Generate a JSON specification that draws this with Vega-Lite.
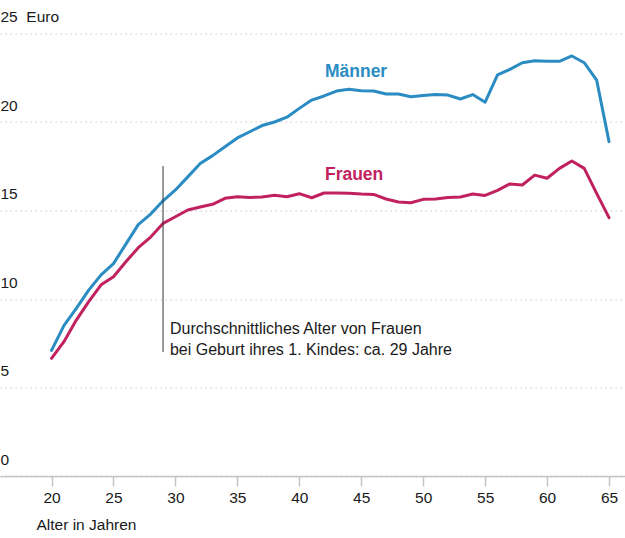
{
  "$schema": "https://vega.github.io/schema/vega-lite/v6.json",
  "autosize": "none",
  "width": 625,
  "height": 442.5,
  "padding": {"left": 0, "right": 0, "top": 33.5, "bottom": 62},
  "background": "white",
  "config": {
    "font": "Liberation Sans",
    "view": {"stroke": null}
  },
  "datasets": {
    "lohn": [
      {"alter": 20, "gruppe": "Männer", "euro": 7.1},
      {"alter": 21, "gruppe": "Männer", "euro": 8.5},
      {"alter": 22, "gruppe": "Männer", "euro": 9.47},
      {"alter": 23, "gruppe": "Männer", "euro": 10.5},
      {"alter": 24, "gruppe": "Männer", "euro": 11.36},
      {"alter": 25, "gruppe": "Männer", "euro": 12.0},
      {"alter": 26, "gruppe": "Männer", "euro": 13.1},
      {"alter": 27, "gruppe": "Männer", "euro": 14.2},
      {"alter": 28, "gruppe": "Männer", "euro": 14.8},
      {"alter": 29, "gruppe": "Männer", "euro": 15.55},
      {"alter": 30, "gruppe": "Männer", "euro": 16.16},
      {"alter": 31, "gruppe": "Männer", "euro": 16.9},
      {"alter": 32, "gruppe": "Männer", "euro": 17.65},
      {"alter": 33, "gruppe": "Männer", "euro": 18.1},
      {"alter": 34, "gruppe": "Männer", "euro": 18.6},
      {"alter": 35, "gruppe": "Männer", "euro": 19.1},
      {"alter": 36, "gruppe": "Männer", "euro": 19.45},
      {"alter": 37, "gruppe": "Männer", "euro": 19.8},
      {"alter": 38, "gruppe": "Männer", "euro": 20.0},
      {"alter": 39, "gruppe": "Männer", "euro": 20.27},
      {"alter": 40, "gruppe": "Männer", "euro": 20.77},
      {"alter": 41, "gruppe": "Männer", "euro": 21.24},
      {"alter": 42, "gruppe": "Männer", "euro": 21.47},
      {"alter": 43, "gruppe": "Männer", "euro": 21.75},
      {"alter": 44, "gruppe": "Männer", "euro": 21.85},
      {"alter": 45, "gruppe": "Männer", "euro": 21.77},
      {"alter": 46, "gruppe": "Männer", "euro": 21.75},
      {"alter": 47, "gruppe": "Männer", "euro": 21.58},
      {"alter": 48, "gruppe": "Männer", "euro": 21.58},
      {"alter": 49, "gruppe": "Männer", "euro": 21.43},
      {"alter": 50, "gruppe": "Männer", "euro": 21.5},
      {"alter": 51, "gruppe": "Männer", "euro": 21.55},
      {"alter": 52, "gruppe": "Männer", "euro": 21.52},
      {"alter": 53, "gruppe": "Männer", "euro": 21.3},
      {"alter": 54, "gruppe": "Männer", "euro": 21.55},
      {"alter": 55, "gruppe": "Männer", "euro": 21.12},
      {"alter": 56, "gruppe": "Männer", "euro": 22.66},
      {"alter": 57, "gruppe": "Männer", "euro": 22.97},
      {"alter": 58, "gruppe": "Männer", "euro": 23.35},
      {"alter": 59, "gruppe": "Männer", "euro": 23.46},
      {"alter": 60, "gruppe": "Männer", "euro": 23.43},
      {"alter": 61, "gruppe": "Männer", "euro": 23.43},
      {"alter": 62, "gruppe": "Männer", "euro": 23.73},
      {"alter": 63, "gruppe": "Männer", "euro": 23.35},
      {"alter": 64, "gruppe": "Männer", "euro": 22.37},
      {"alter": 65, "gruppe": "Männer", "euro": 18.89},
      {"alter": 20, "gruppe": "Frauen", "euro": 6.65},
      {"alter": 21, "gruppe": "Frauen", "euro": 7.59},
      {"alter": 22, "gruppe": "Frauen", "euro": 8.81},
      {"alter": 23, "gruppe": "Frauen", "euro": 9.85},
      {"alter": 24, "gruppe": "Frauen", "euro": 10.8},
      {"alter": 25, "gruppe": "Frauen", "euro": 11.26},
      {"alter": 26, "gruppe": "Frauen", "euro": 12.1},
      {"alter": 27, "gruppe": "Frauen", "euro": 12.9},
      {"alter": 28, "gruppe": "Frauen", "euro": 13.5},
      {"alter": 29, "gruppe": "Frauen", "euro": 14.27},
      {"alter": 30, "gruppe": "Frauen", "euro": 14.65},
      {"alter": 31, "gruppe": "Frauen", "euro": 15.03},
      {"alter": 32, "gruppe": "Frauen", "euro": 15.2},
      {"alter": 33, "gruppe": "Frauen", "euro": 15.35},
      {"alter": 34, "gruppe": "Frauen", "euro": 15.69},
      {"alter": 35, "gruppe": "Frauen", "euro": 15.78},
      {"alter": 36, "gruppe": "Frauen", "euro": 15.74},
      {"alter": 37, "gruppe": "Frauen", "euro": 15.76},
      {"alter": 38, "gruppe": "Frauen", "euro": 15.86},
      {"alter": 39, "gruppe": "Frauen", "euro": 15.78},
      {"alter": 40, "gruppe": "Frauen", "euro": 15.95},
      {"alter": 41, "gruppe": "Frauen", "euro": 15.72},
      {"alter": 42, "gruppe": "Frauen", "euro": 15.99},
      {"alter": 43, "gruppe": "Frauen", "euro": 15.99},
      {"alter": 44, "gruppe": "Frauen", "euro": 15.97},
      {"alter": 45, "gruppe": "Frauen", "euro": 15.93},
      {"alter": 46, "gruppe": "Frauen", "euro": 15.91},
      {"alter": 47, "gruppe": "Frauen", "euro": 15.65},
      {"alter": 48, "gruppe": "Frauen", "euro": 15.48},
      {"alter": 49, "gruppe": "Frauen", "euro": 15.44},
      {"alter": 50, "gruppe": "Frauen", "euro": 15.63},
      {"alter": 51, "gruppe": "Frauen", "euro": 15.65},
      {"alter": 52, "gruppe": "Frauen", "euro": 15.74},
      {"alter": 53, "gruppe": "Frauen", "euro": 15.76},
      {"alter": 54, "gruppe": "Frauen", "euro": 15.93},
      {"alter": 55, "gruppe": "Frauen", "euro": 15.85},
      {"alter": 56, "gruppe": "Frauen", "euro": 16.14},
      {"alter": 57, "gruppe": "Frauen", "euro": 16.5},
      {"alter": 58, "gruppe": "Frauen", "euro": 16.44},
      {"alter": 59, "gruppe": "Frauen", "euro": 17.0},
      {"alter": 60, "gruppe": "Frauen", "euro": 16.82},
      {"alter": 61, "gruppe": "Frauen", "euro": 17.38},
      {"alter": 62, "gruppe": "Frauen", "euro": 17.8},
      {"alter": 63, "gruppe": "Frauen", "euro": 17.38},
      {"alter": 64, "gruppe": "Frauen", "euro": 15.97},
      {"alter": 65, "gruppe": "Frauen", "euro": 14.6}
    ],
    "markierung": [
      {"alter": 29, "von": 7.0, "bis": 17.51}
    ],
    "anmerkung": [
      {"alter": 29.56, "euro": 8.02, "text": "Durchschnittliches Alter von Frauen"},
      {"alter": 29.56, "euro": 6.84, "text": "bei Geburt ihres 1. Kindes: ca. 29 Jahre"}
    ],
    "beschriftung": [
      {"alter": 42.07, "euro": 22.54, "gruppe": "Männer"},
      {"alter": 42.07, "euro": 16.72, "gruppe": "Frauen"}
    ]
  },
  "layer": [
    {
      "data": {"name": "lohn"},
      "mark": {"type": "line", "strokeWidth": 3, "strokeJoin": "round", "strokeCap": "round"},
      "encoding": {
        "x": {
          "field": "alter", "type": "quantitative",
          "scale": {"domain": [15.84, 66.29], "nice": false, "zero": false},
          "axis": {
            "values": [20, 25, 30, 35, 40, 45, 50, 55, 60, 65],
            "title": "Alter in Jahren",
            "titleFont": "Liberation Sans",
            "titleFontSize": 15.5,
            "titleFontWeight": "normal",
            "titleColor": "#1a1a1a",
            "titleAnchor": "start",
            "titleAlign": "left",
            "titleBaseline": "alphabetic",
            "titleX": 36,
            "titleY": 53,
            "grid": false,
            "domainColor": "#c4c4c4",
            "domainWidth": 1.5,
            "tickColor": "#c4c4c4",
            "tickWidth": 1.5,
            "tickSize": 10,
            "labelFontSize": 15.5,
            "labelColor": "#1a1a1a",
            "labelPadding": 4
          }
        },
        "y": {
          "field": "euro", "type": "quantitative",
          "scale": {"domain": [0, 25], "nice": false},
          "axis": {
            "values": [0, 5, 10, 15, 20, 25],
            "title": null,
            "domain": false,
            "ticks": false,
            "grid": true,
            "gridColor": "#c8c8c8",
            "gridDash": [1.5, 3.5],
            "gridWidth": 1,
            "labelAlign": "left",
            "labelBaseline": "alphabetic",
            "labelPadding": 0,
            "labelOffset": -12,
            "labelFontSize": 15.5,
            "labelColor": "#1a1a1a",
            "labelExpr": "datum.value == 25 ? '25\u00a0\u00a0Euro' : datum.label"
          }
        },
        "color": {
          "field": "gruppe", "type": "nominal",
          "scale": {"domain": ["Männer", "Frauen"], "range": ["#2a8cc2", "#c1225f"]},
          "legend": null
        }
      }
    },
    {
      "data": {"name": "markierung"},
      "mark": {"type": "rule", "color": "#333", "strokeWidth": 1},
      "encoding": {
        "x": {"field": "alter", "type": "quantitative"},
        "y": {"field": "von", "type": "quantitative"},
        "y2": {"field": "bis"}
      }
    },
    {
      "data": {"name": "anmerkung"},
      "mark": {"type": "text", "align": "left", "baseline": "alphabetic", "fontSize": 16, "color": "#1a1a1a"},
      "encoding": {
        "x": {"field": "alter", "type": "quantitative"},
        "y": {"field": "euro", "type": "quantitative"},
        "text": {"field": "text"}
      }
    },
    {
      "data": {"name": "beschriftung"},
      "mark": {"type": "text", "align": "left", "baseline": "alphabetic", "fontSize": 17.5, "fontWeight": "bold"},
      "encoding": {
        "x": {"field": "alter", "type": "quantitative"},
        "y": {"field": "euro", "type": "quantitative"},
        "text": {"field": "gruppe"},
        "color": {"field": "gruppe", "type": "nominal", "legend": null}
      }
    }
  ]
}
